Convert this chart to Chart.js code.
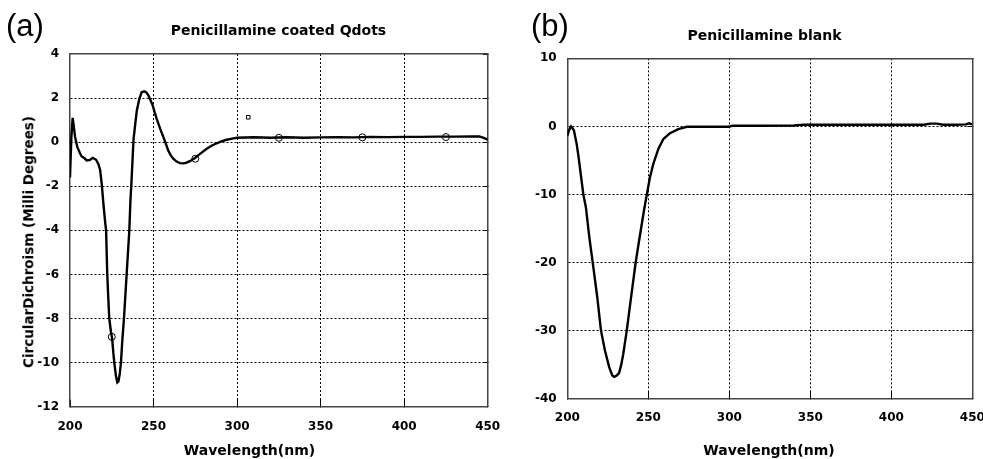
<!DOCTYPE html>
<html>
<head>
<meta charset="utf-8">
<script src="https://cdn.jsdelivr.net/npm/chart.js@4.4.1/dist/chart.umd.min.js"></script>
<style>
  body { margin: 0; background: #fff; }
  #wrap { position: relative; width: 983px; height: 459px; overflow: hidden; }
  canvas { position: absolute; top: 0; }
  .lbl { position: absolute; white-space: nowrap; line-height: 1; color: #000; }
  .letter { font-family: "Liberation Sans", Arial, sans-serif; font-size: 31px; }
  .bold { font-family: "DejaVu Sans", sans-serif; font-weight: bold; font-size: 14px; transform: translateX(-50%); }
  .ytitle { font-family: "DejaVu Sans", sans-serif; font-weight: bold; font-size: 13.5px;
            transform: translate(-50%, -50%) rotate(-90deg); }
</style>
</head>
<body>
<div id="wrap">
  <canvas id="chartA" width="520" height="459" style="left:0"></canvas>
  <canvas id="chartB" width="493" height="459" style="left:490px"></canvas>

  <div class="lbl letter" style="left:6px; top:10px">(a)</div>
  <div class="lbl bold" style="left:278.5px; top:23.2px">Penicillamine coated Qdots</div>
  <div class="lbl bold" style="left:249.5px; top:443.2px">Wavelength(nm)</div>
  <div class="lbl ytitle" style="left:28.6px; top:241.7px">CircularDichroism (Milli Degrees)</div>

  <div class="lbl letter" style="left:531px; top:10px">(b)</div>
  <div class="lbl bold" style="left:764.5px; top:28.2px">Penicillamine blank</div>
  <div class="lbl bold" style="left:769px; top:443.2px">Wavelength(nm)</div>
</div>
<script>
// tick values
const xTicks = [200, 250, 300, 350, 400, 450];
const yTicksA = [-12, -10, -8, -6, -4, -2, 0, 2, 4];
const yTicksB = [-40, -30, -20, -10, 0, 10];

// (a) Penicillamine coated Qdots
const wlA = [200, 200.8, 201.6, 202.3, 203, 204.4, 206, 207, 208.5, 210, 212, 213.6, 215.6, 217, 218, 219,
  220, 221, 221.6, 222.3, 223, 223.5, 224.5, 225.2, 226, 226.5, 227.5, 228.3, 229, 229.8, 230.5, 231.3,
  232.3, 233.1, 233.9, 234.7, 235.5, 236.2, 236.8, 238, 239, 240, 241.5, 242.9, 244.5, 245.8, 246.9,
  248.2, 249.5, 250.7, 251.9, 254, 255.9, 257.5, 258.8, 260.3, 261.8, 263.8, 265.8, 268, 269.8, 272,
  274.8, 278, 281.8, 285, 287.8, 291, 293.8, 297, 300, 310, 320, 330, 340, 350, 360, 370, 380, 390,
  400, 410, 420, 430, 440, 445, 448, 450];
const cdA = [-1.6, 0.2, 1.1, 0.7, 0.25, -0.23, -0.5, -0.65, -0.72, -0.83, -0.8, -0.71, -0.8, -1.0, -1.25, -1.9,
  -2.8, -3.6, -4.0, -6.0, -7.2, -8.0, -8.6, -8.9, -9.6, -10.0, -10.6, -10.9, -10.85, -10.5, -10.0, -9.0,
  -8.0, -7.0, -6.0, -5.0, -4.0, -2.6, -1.8, 0.1, 0.8, 1.44, 1.97, 2.27, 2.31, 2.25, 2.12,
  1.9, 1.67, 1.35, 1.06, 0.6, 0.23, -0.1, -0.38, -0.6, -0.75, -0.88, -0.95, -0.96, -0.93, -0.85,
  -0.72, -0.52, -0.3, -0.15, -0.05, 0.05, 0.11, 0.16, 0.2, 0.22, 0.2, 0.22, 0.2, 0.22, 0.23, 0.22, 0.24, 0.23,
  0.24, 0.24, 0.25, 0.25, 0.26, 0.26, 0.18, 0.11];
const markWlA = [225, 275, 325, 375, 425];
const markCdA = [-8.83, -0.75, 0.2, 0.22, 0.23];
const strayWlA = [306.7];
const strayCdA = [1.13];

// (b) Penicillamine blank
const wlB = [200, 201, 202.3, 203, 204.1, 205.8, 207, 208.3, 209.9, 211.5, 213.6, 215.7, 218.5, 220.8, 223.3,
  225.9, 227.8, 229, 230.5, 232, 233.3, 234.5, 236.7, 239.1, 242.2, 244.3, 247.3, 249.1, 251, 253.1, 256.2,
  259.3, 263.4, 268.5, 273.7, 280, 290, 300, 302, 320, 340, 346, 360, 380, 400, 420, 424, 428, 432, 440,
  446, 448, 450];
const cdB = [-1.4, -0.6, 0, -0.2, -0.6, -2.6, -4.6, -7, -10, -11.9, -16.3, -20, -25.1, -30, -33,
  -35.4, -36.6, -36.8, -36.6, -36.2, -35, -33.5, -30, -25.6, -20, -16.8, -12.4, -10, -7.5, -5.5, -3.3,
  -1.85, -1.0, -0.4, -0.05, -0.05, -0.05, -0.05, 0.1, 0.1, 0.12, 0.25, 0.25, 0.25, 0.25, 0.25, 0.4, 0.4, 0.25, 0.25,
  0.3, 0.45, 0.3];

const tickFont = { family: 'DejaVu Sans', weight: 'bold', size: 12 };
const frame = { display: true, color: '#444', width: 1.5, dash: [2, 2] };

function pts(xs, ys) {
  return xs.map((x, i) => ({ x: x, y: ys[i] }));
}

function setTicks(values) {
  return axis => { axis.ticks = values.map(v => ({ value: v })); };
}

// hide grid lines that sit on the frame
function inner(min, max) {
  return ctx => (ctx.tick && (ctx.tick.value === min || ctx.tick.value === max)) ? 'rgba(0,0,0,0)' : '#000';
}

// fixed axis size, no label overflow padding
function fixSize(w, h) {
  return s => {
    if (w !== null) s.width = w;
    if (h !== null) s.height = h;
    s.paddingLeft = s.paddingRight = s.paddingTop = s.paddingBottom = 0;
  };
}

function makeScales(p) {
  return {
    x: {
      type: 'linear', min: 200, max: 450,
      afterBuildTicks: setTicks(xTicks),
      ticks: { font: tickFont, color: '#000', padding: p.xPad, maxRotation: 0 },
      grid: { color: inner(200, 450), lineWidth: 1, tickLength: -7, tickColor: '#000' },
      border: frame,
      afterFit: fixSize(null, p.xHeight)
    },
    y: {
      type: 'linear', min: p.yMin, max: p.yMax,
      afterBuildTicks: setTicks(p.yTicks),
      ticks: { font: tickFont, color: '#000', padding: p.yPad },
      grid: { color: inner(p.yMin, p.yMax), lineWidth: 1, drawTicks: false },
      border: frame,
      afterFit: fixSize(p.yWidth, null)
    },
    x2: {
      type: 'linear', position: 'top', min: 200, max: 450,
      ticks: { display: false },
      grid: { display: false },
      border: frame,
      afterFit: fixSize(null, 0)
    },
    y2: {
      type: 'linear', position: 'right', min: p.yMin, max: p.yMax,
      afterBuildTicks: setTicks(p.yTicks),
      ticks: { display: false },
      grid: { drawOnChartArea: false, tickLength: -5, tickColor: '#000' },
      border: frame,
      afterFit: fixSize(0, null)
    }
  };
}

const lineStyle = { borderColor: '#000', borderWidth: 2.4, pointRadius: 0, tension: 0, fill: false };

new Chart(document.getElementById('chartA'), {
  type: 'line',
  data: {
    datasets: [
      Object.assign({ data: pts(wlA, cdA) }, lineStyle),
      {
        data: pts(markWlA, markCdA), showLine: false, pointRadius: 3.5,
        pointBorderColor: '#000', pointBackgroundColor: 'rgba(0,0,0,0)', pointBorderWidth: 1
      },
      {
        data: pts(strayWlA, strayCdA), showLine: false, pointStyle: 'rect', pointRadius: 2.5,
        pointBorderColor: '#000', pointBackgroundColor: 'rgba(0,0,0,0)', pointBorderWidth: 1
      }
    ]
  },
  options: {
    responsive: false, animation: false,
    layout: { padding: { top: 54, right: 32.3, bottom: 0, left: 0 } },
    plugins: { legend: { display: false }, tooltip: { enabled: false } },
    scales: makeScales({ yMin: -12, yMax: 4, yTicks: yTicksA, xPad: 20, yPad: 11, xHeight: 52.3, yWidth: 70 })
  }
});

new Chart(document.getElementById('chartB'), {
  type: 'line',
  data: {
    datasets: [Object.assign({ data: pts(wlB, cdB) }, lineStyle)]
  },
  options: {
    responsive: false, animation: false,
    layout: { padding: { top: 58.3, right: 10.7, bottom: 0, left: 0 } },
    plugins: { legend: { display: false }, tooltip: { enabled: false } },
    scales: makeScales({ yMin: -40, yMax: 10, yTicks: yTicksB, xPad: 19.4, yPad: 10.6, xHeight: 60.3, yWidth: 77.3 })
  }
});
</script>
</body>
</html>
